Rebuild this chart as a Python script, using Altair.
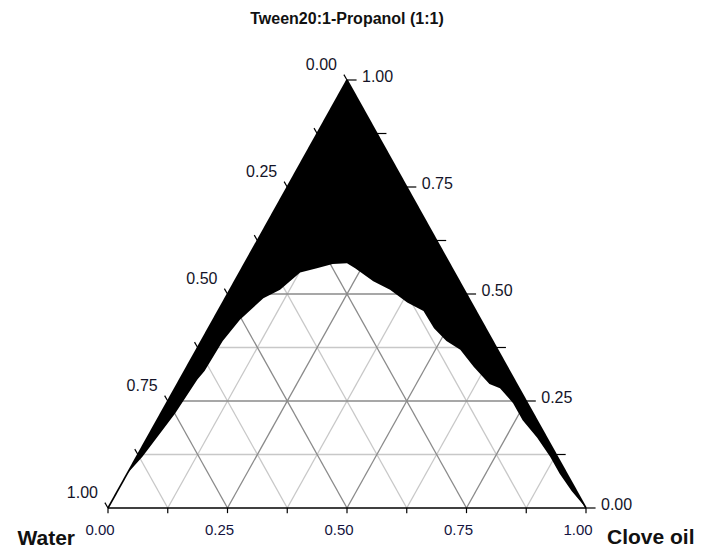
import altair as alt
import pandas as pd

title_text = "Tween20:1-Propanol (1:1)"
water_name = "Water"
oil_name = "Clove oil"

# Lower boundary of the black (single-phase) region,
# as fractions of Tween20:1-Propanol (surfactant) and Clove oil; water = rest.
boundary_surf = [0.08, 0.12, 0.22, 0.30, 0.32, 0.39, 0.44, 0.49, 0.51, 0.55, 0.56,
                 0.57, 0.572, 0.56, 0.53, 0.51, 0.48, 0.46, 0.42, 0.39, 0.37, 0.33,
                 0.29, 0.28, 0.245, 0.205, 0.165, 0.12, 0.08, 0.04, 0.02, 0.0]
boundary_oil = [0.0, 0.012, 0.03, 0.037, 0.042, 0.045, 0.056, 0.08, 0.105, 0.127, 0.157,
                0.185, 0.214, 0.237, 0.29, 0.335, 0.386, 0.43, 0.472, 0.513, 0.552, 0.6,
                0.653, 0.68, 0.725, 0.765, 0.815, 0.865, 0.905, 0.95, 0.975, 1.0]

grid_levels = [0.125, 0.25, 0.375, 0.5, 0.625, 0.75, 0.875]
major_levels = [0.25, 0.5, 0.75]
tick_levels = [0.0, 0.125, 0.25, 0.375, 0.5, 0.625, 0.75, 0.875, 1.0]
label_levels = [0.0, 0.25, 0.5, 0.75, 1.0]


def xy(surf, oil):
    return oil + surf / 2.0, surf


# ---- grid lines
grid_rows = []
for lv in grid_levels:
    kind = "major" if lv in major_levels else "minor"
    x1, y1 = xy(lv, 0.0)
    x2, y2 = xy(lv, 1.0 - lv)
    grid_rows.append(dict(x=x1, y=y1, x2=x2, y2=y2, kind=kind))
    x1, y1 = xy(0.0, lv)
    x2, y2 = xy(1.0 - lv, lv)
    grid_rows.append(dict(x=x1, y=y1, x2=x2, y2=y2, kind=kind))
    x1, y1 = xy(0.0, 1.0 - lv)
    x2, y2 = xy(1.0 - lv, 0.0)
    grid_rows.append(dict(x=x1, y=y1, x2=x2, y2=y2, kind=kind))
grid_df = pd.DataFrame(grid_rows)

# ---- triangle edges
corners = [xy(0, 0), xy(1, 0), xy(0, 1)]
edge_df = pd.DataFrame([
    dict(x=corners[0][0], y=corners[0][1], x2=corners[1][0], y2=corners[1][1]),
    dict(x=corners[0][0], y=corners[0][1], x2=corners[2][0], y2=corners[2][1]),
    dict(x=corners[1][0], y=corners[1][1], x2=corners[2][0], y2=corners[2][1]),
])

# ---- ticks
tick_rows = []
for v in tick_levels:
    x, y = xy(1 - v, 0.0)
    tick_rows.append(dict(x=x, y=y, x2=x - 0.0065, y2=y + 0.0125))
    x, y = xy(v, 1 - v)
    tick_rows.append(dict(x=x, y=y, x2=x + 0.02, y2=y))
    x, y = xy(0.0, v)
    tick_rows.append(dict(x=x, y=y, x2=x, y2=y - 0.012))
tick_df = pd.DataFrame(tick_rows)

left_lab = pd.DataFrame([dict(x=xy(1 - v, 0)[0], y=xy(1 - v, 0)[1], t=f"{v:.2f}") for v in label_levels])
right_lab = pd.DataFrame([dict(x=xy(v, 1 - v)[0], y=xy(v, 1 - v)[1], t=f"{v:.2f}") for v in label_levels])
bottom_lab = pd.DataFrame([dict(x=xy(0, v)[0], y=xy(0, v)[1], t=f"{v:.2f}") for v in label_levels])

# ---- black region (area between triangle edges and boundary curve)
area_rows = []
for s, o in zip(boundary_surf, boundary_oil):
    x, y = xy(s, o)
    upper = min(2 * x, 2 * (1 - x))
    area_rows.append(dict(ax=x, lo=y, hi=upper))
area_df = pd.DataFrame(area_rows)

name_df = pd.DataFrame([
    dict(x=xy(0, 0)[0], y=xy(0, 0)[1], t=water_name, side="L"),
    dict(x=xy(0, 1)[0], y=xy(0, 1)[1], t=oil_name, side="R"),
])

SX = alt.Scale(domain=[0, 1], nice=False, zero=False)
SY = alt.Scale(domain=[0, 1], nice=False, zero=False)
X = alt.X("x:Q", scale=SX, axis=None)
Y = alt.Y("y:Q", scale=SY, axis=None)

FONT = "Liberation Sans"

grid_minor = alt.Chart(grid_df).transform_filter(alt.datum.kind == "minor").mark_rule(
    color="#c8c8c8", strokeWidth=1.3).encode(x=X, y=Y, x2="x2:Q", y2="y2:Q")
grid_major = alt.Chart(grid_df).transform_filter(alt.datum.kind == "major").mark_rule(
    color="#8a8a8a", strokeWidth=1.3).encode(x=X, y=Y, x2="x2:Q", y2="y2:Q")

area = alt.Chart(area_df).mark_area(color="black", fillOpacity=1, interpolate="linear").encode(
    x=alt.X("ax:Q", scale=SX, axis=None),
    y=alt.Y("hi:Q", scale=SY, axis=None, stack=None),
    y2="lo:Q")

edges = alt.Chart(edge_df).mark_rule(color="black", strokeWidth=1.6).encode(
    x=X, y=Y, x2="x2:Q", y2="y2:Q")
ticks = alt.Chart(tick_df).mark_rule(color="black", strokeWidth=1.2).encode(
    x=X, y=Y, x2="x2:Q", y2="y2:Q")

lab_kw = dict(font=FONT, fontSize=16, color="#141428")
t_left = alt.Chart(left_lab).mark_text(align="right", baseline="alphabetic", dx=-10, dy=-10, **lab_kw).encode(
    x=X, y=Y, text="t:N")
t_right = alt.Chart(right_lab).mark_text(align="left", baseline="middle", dx=15, dy=-3, **lab_kw).encode(
    x=X, y=Y, text="t:N")
t_bottom = alt.Chart(bottom_lab).mark_text(align="center", baseline="alphabetic", dx=-8, dy=27,
                                           font=FONT, fontSize=15, color="#141440").encode(
    x=X, y=Y, text="t:N")

name_kw = dict(font=FONT, fontWeight="bold", color="#111111", fontSize=21)
n_left = alt.Chart(name_df).transform_filter(alt.datum.side == "L").mark_text(
    align="right", baseline="alphabetic", dx=-33, dy=37, **name_kw).encode(x=X, y=Y, text="t:N")
n_right = alt.Chart(name_df).transform_filter(alt.datum.side == "R").mark_text(
    align="left", baseline="alphabetic", dx=21, dy=36, **name_kw).encode(x=X, y=Y, text="t:N")

chart = alt.layer(
    grid_minor, grid_major, area, edges, ticks, t_left, t_right, t_bottom, n_left, n_right
).properties(
    width=478,
    height=428,
    title=alt.TitleParams(title_text, font=FONT, fontSize=16, fontWeight="bold",
                          color="#111111", anchor="middle", offset=30),
    padding={"left": 100, "top": 72, "right": 110, "bottom": 45},
    autosize=alt.AutoSizeParams(type="none"),
).configure_view(stroke=None)

chart.save("out.html", embed_options={"renderer": "svg", "actions": False})
